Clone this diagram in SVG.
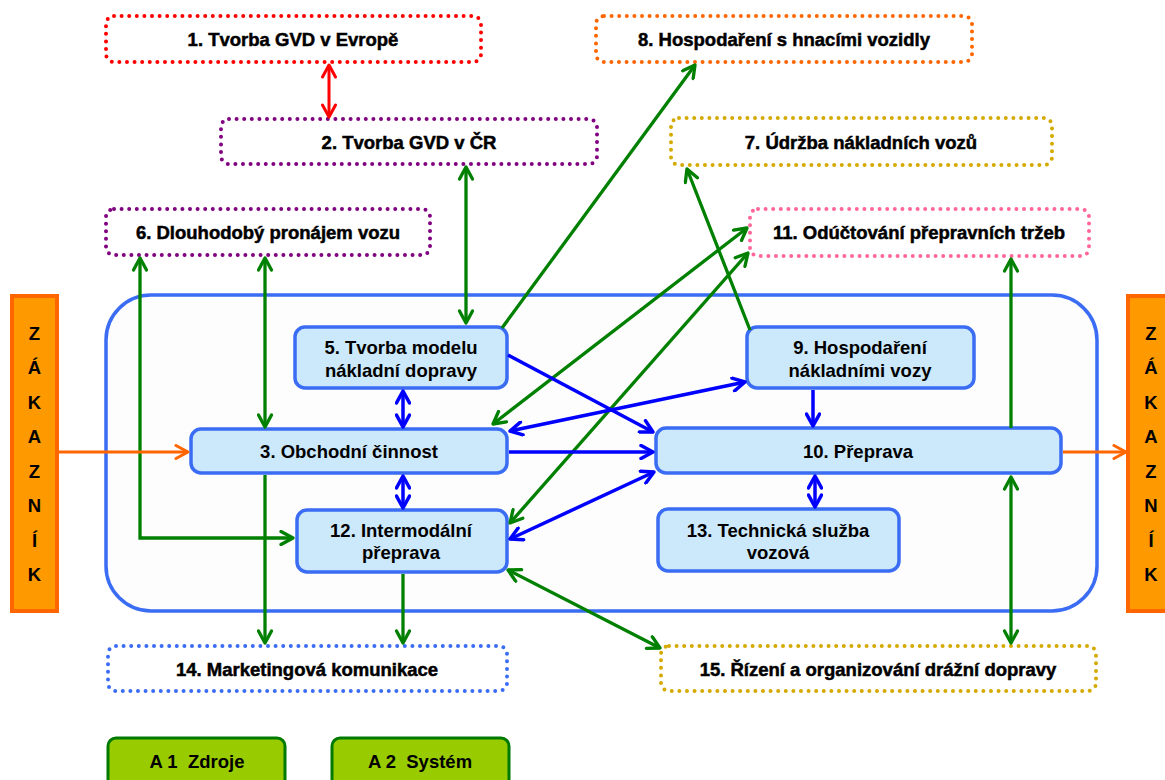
<svg xmlns="http://www.w3.org/2000/svg" width="1165" height="780" viewBox="0 0 1165 780">
<style>
text{font-family:"Liberation Sans",Arial,sans-serif;font-weight:bold;font-size:18.5px;fill:#000;text-anchor:middle}
.dl{stroke:#000;stroke-width:0.5}
.dot{fill:#fff;stroke-width:4;stroke-dasharray:0 7.6;stroke-linecap:round}
.nd{fill:#cce9fb;stroke:#3a6cf4;stroke-width:3.5}
.zk{fill:#ff9900;stroke:#ff6600;stroke-width:4}
.lg{fill:#99cc00;stroke:#007a00;stroke-width:3}
.g{fill:none;stroke:#008000;stroke-width:3.3;marker-end:url(#ag)}
.g2{marker-start:url(#ag)}
.b{fill:none;stroke:#0000ff;stroke-width:3.5;marker-end:url(#ab)}
.b2{marker-start:url(#ab)}
.o{fill:none;stroke:#ff6600;stroke-width:3;marker-end:url(#ao)}
.r{fill:none;stroke:#ff0000;stroke-width:3;marker-end:url(#ar);marker-start:url(#ar)}
</style>
<defs>
<marker id="ag" viewBox="0 0 16 16" refX="14" refY="8" markerWidth="16" markerHeight="16" markerUnits="userSpaceOnUse" orient="auto-start-reverse"><path d="M2,1.5 L14,8 L2,14.5" fill="none" stroke="#008000" stroke-width="3.3" stroke-linecap="round" stroke-linejoin="round"/></marker>
<marker id="ab" viewBox="0 0 16 16" refX="14" refY="8" markerWidth="16" markerHeight="16" markerUnits="userSpaceOnUse" orient="auto-start-reverse"><path d="M2,1.5 L14,8 L2,14.5" fill="none" stroke="#0000ff" stroke-width="3.5" stroke-linecap="round" stroke-linejoin="round"/></marker>
<marker id="ao" viewBox="0 0 16 16" refX="14" refY="8" markerWidth="16" markerHeight="16" markerUnits="userSpaceOnUse" orient="auto-start-reverse"><path d="M2,1.5 L14,8 L2,14.5" fill="none" stroke="#ff6600" stroke-width="3" stroke-linecap="round" stroke-linejoin="round"/></marker>
<marker id="ar" viewBox="0 0 16 16" refX="14" refY="8" markerWidth="16" markerHeight="16" markerUnits="userSpaceOnUse" orient="auto-start-reverse"><path d="M2,1.5 L14,8 L2,14.5" fill="none" stroke="#ff0000" stroke-width="3" stroke-linecap="round" stroke-linejoin="round"/></marker>
</defs>
<rect width="1165" height="780" fill="#fff"/>

<g id="container"><rect x="106" y="295" width="991" height="316" rx="45" fill="#fdfdfd" stroke="#3a6cf4" stroke-width="3.5"/></g>

<g id="zakaznik-left"><rect class="zk" x="12" y="296" width="45" height="315"/>
<text x="34.5" y="340">Z</text><text x="34.5" y="374">Á</text><text x="34.5" y="409">K</text><text x="34.5" y="443">A</text><text x="34.5" y="478">Z</text><text x="34.5" y="512">N</text><text x="34.5" y="547">Í</text><text x="34.5" y="581">K</text></g>
<g id="zakaznik-right"><rect class="zk" x="1128" y="296" width="45" height="315"/>
<text x="1151" y="340">Z</text><text x="1151" y="374">Á</text><text x="1151" y="409">K</text><text x="1151" y="443">A</text><text x="1151" y="478">Z</text><text x="1151" y="512">N</text><text x="1151" y="547">Í</text><text x="1151" y="581">K</text></g>

<g id="n1"><rect class="dot" stroke="#ff0000" x="106" y="16" width="375" height="46" rx="8"/><text class="dl" x="293" y="46">1. Tvorba GVD v Evropě</text></g>
<g id="n2"><rect class="dot" stroke="#800080" x="221" y="119" width="376" height="45" rx="8"/><text class="dl" x="409" y="149">2. Tvorba GVD v ČR</text></g>
<g id="n6"><rect class="dot" stroke="#800080" x="106" y="209" width="324" height="46" rx="8"/><text class="dl" x="268" y="239">6. Dlouhodobý pronájem vozu</text></g>
<g id="n8"><rect class="dot" stroke="#ff6600" x="596" y="16" width="376" height="46" rx="8"/><text class="dl" x="784" y="46">8. Hospodaření s hnacími vozidly</text></g>
<g id="n7"><rect class="dot" stroke="#d4aa00" x="671" y="118" width="381" height="47" rx="8"/><text class="dl" x="861" y="149">7. Údržba nákladních vozů</text></g>
<g id="n11"><rect class="dot" stroke="#ff6699" x="750" y="209" width="339" height="47" rx="8"/><text class="dl" x="919" y="239">11. Odúčtování přepravních tržeb</text></g>
<g id="n14"><rect class="dot" stroke="#3a6cf4" x="108" y="646" width="399" height="45" rx="8"/><text class="dl" x="307" y="676">14. Marketingová komunikace</text></g>
<g id="n15"><rect class="dot" stroke="#d4aa00" x="661" y="646" width="435" height="45" rx="8"/><text class="dl" x="878" y="676">15. Řízení a organizování drážní dopravy</text></g>

<g id="n5"><rect class="nd" x="295" y="327" width="212" height="61" rx="10"/><text x="401" y="354">5. Tvorba modelu</text><text x="401" y="377">nákladní dopravy</text></g>
<g id="n3"><rect class="nd" x="191" y="429" width="316" height="44" rx="10"/><text x="349" y="458">3. Obchodní činnost</text></g>
<g id="n12"><rect class="nd" x="297" y="510" width="210" height="62" rx="10"/><text x="401" y="537">12. Intermodální</text><text x="401" y="559">přeprava</text></g>
<g id="n9"><rect class="nd" x="747" y="327" width="227" height="61" rx="10"/><text x="860" y="354">9. Hospodaření</text><text x="860" y="377">nákladními vozy</text></g>
<g id="n10"><rect class="nd" x="656" y="428" width="405" height="45" rx="10"/><text x="858" y="458">10. Přeprava</text></g>
<g id="n13"><rect class="nd" x="658" y="509" width="241" height="62" rx="10"/><text x="778" y="537">13. Technická služba</text><text x="778" y="559">vozová</text></g>

<g id="legend-a1"><rect class="lg" x="108" y="738" width="177" height="55" rx="8"/><text x="197" y="768" xml:space="preserve">A 1  Zdroje</text></g>
<g id="legend-a2"><rect class="lg" x="332" y="738" width="177" height="55" rx="8"/><text x="420" y="768" xml:space="preserve">A 2  Systém</text></g>

<g id="connectors">
<line class="r" x1="329" y1="65" x2="329" y2="117"/>
<line class="g g2" x1="466" y1="167" x2="466" y2="323"/>
<polyline class="g g2" points="140,258 140,538 293,538"/>
<line class="g g2" x1="265" y1="258" x2="265" y2="427"/>
<line class="g" x1="502" y1="328" x2="695" y2="65"/>
<line class="g" x1="750" y1="330" x2="687" y2="169"/>
<line class="g g2" x1="493" y1="424" x2="747" y2="228"/>
<line class="g g2" x1="510" y1="523" x2="748" y2="253"/>
<line class="g" x1="1011" y1="428" x2="1011" y2="259"/>
<line class="g g2" x1="1011" y1="477" x2="1011" y2="643"/>
<line class="g" x1="265" y1="475" x2="265" y2="643"/>
<line class="g" x1="403" y1="574" x2="403" y2="643"/>
<line class="g g2" x1="508" y1="570" x2="660" y2="648"/>
<line class="b b2" x1="403" y1="391" x2="403" y2="427"/>
<line class="b b2" x1="403" y1="476" x2="403" y2="508"/>
<line class="b" x1="508" y1="355" x2="653" y2="432"/>
<line class="b b2" x1="510" y1="431" x2="745" y2="382"/>
<line class="b" x1="509" y1="452" x2="653" y2="452"/>
<line class="b b2" x1="510" y1="539" x2="654" y2="472"/>
<line class="b" x1="813" y1="390" x2="813" y2="426"/>
<line class="b b2" x1="815" y1="476" x2="815" y2="507"/>
<line class="o" x1="58" y1="452" x2="188" y2="452"/>
<line class="o" x1="1063" y1="452" x2="1126" y2="452"/>
</g>
</svg>
